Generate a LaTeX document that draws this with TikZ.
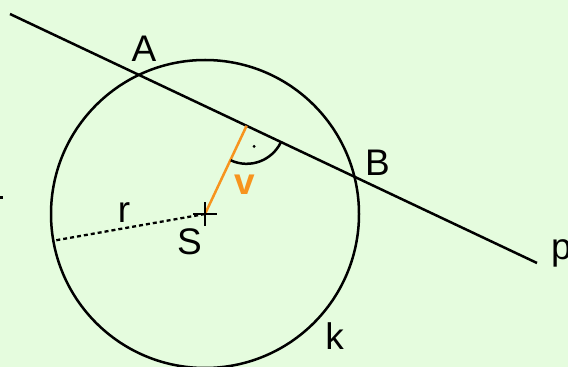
\documentclass[tikz,border=0pt]{standalone}
\usepackage{fontspec}
\setmainfont{Liberation Sans}
\usetikzlibrary{calc}
\definecolor{bggreen}{RGB}{229,252,222}
\definecolor{vorange}{RGB}{247,148,30}
\begin{document}
\begin{tikzpicture}[x=1pt,y=1pt,
  geo/.style={line width=2.5pt,black},
  lbl/.style={inner sep=0pt,anchor=base,font=\fontsize{37}{40}\selectfont}]
\useasboundingbox (0,0) rectangle (568,367);
\fill[bggreen] (0,0) rectangle (568,367);
\coordinate (P1) at (10,353);
\coordinate (P2) at (537,104);
\coordinate (S) at (205,153);
\coordinate (F) at (246.6,241.2);
\coordinate (R) at ($(S)+(190:154)$);
% circle k
\draw[geo] (S) circle (154);
% line p
\draw[geo] (P1) -- (P2);
% radius r dotted
\draw[line width=2.3pt,dash pattern=on 4pt off 3pt] (S) -- (R);
% perpendicular v
\draw[line width=2.5pt,vorange] (S) -- (F);
% right angle mark
\draw[geo] ($(F)+(245.3:38)$) arc[start angle=245.3,end angle=334.7,radius=38];
\fill ($(F)+(290:22)$) circle (1.6);
% cross at S
\draw[geo] ($(S)+(-12,0)$) -- ($(S)+(12,0)$);
\draw[geo] ($(S)+(0,-12)$) -- ($(S)+(0,12)$);
% small mark at left edge
\fill (0,168) rectangle (3,171);
% labels
\node[lbl] (lA) at (144,305) {A};
\node[lbl] (lB) at (377.5,191) {B};
\node[lbl,anchor=base west] (lp) at (551,107) {p};
\node[lbl] (lk) at (334.5,17) {k};
\node[lbl] (lr) at (124,144) {r};
\node[lbl] (lS) at (189.5,112) {S};
\node[lbl,text=vorange,font=\fontsize{37}{40}\selectfont\bfseries] (lv) at (245,172) {v};
\end{tikzpicture}
\end{document}
